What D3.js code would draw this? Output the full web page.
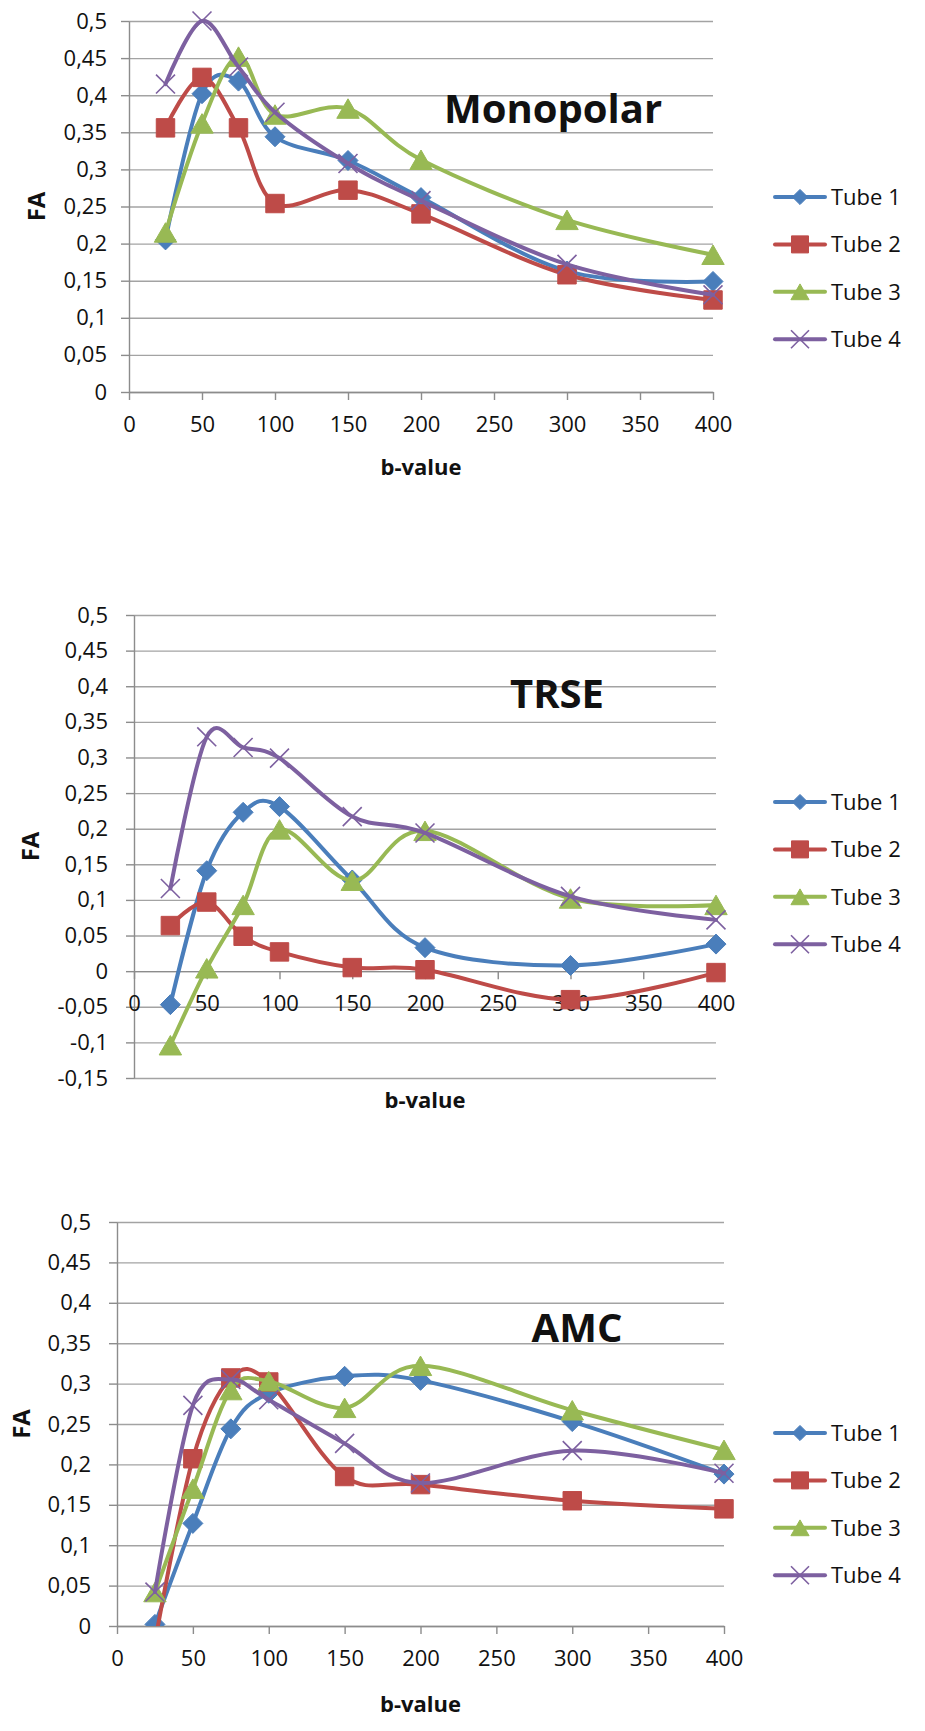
<!DOCTYPE html>
<html>
<head>
	<meta charset="UTF-8">
	<title>FA vs b-value</title>
	<script src="https://d3js.org/d3.v7.min.js"></script>
	<style>
		body { margin: 0; background: #ffffff; }
		text { font-family: "Open Sans", "Liberation Sans", sans-serif; fill: #111; }
	</style>
</head>
<body>
	<script>

		// b-values on the x axis and the series names
		var bValues = [25, 50, 75, 100, 150, 200, 300, 400];
		var tubeNames = ["Tube 1", "Tube 2", "Tube 3", "Tube 4"];

		// Monopolar FA
		var monopolarTube1 = [0.205, 0.402, 0.419, 0.344, 0.312, 0.262, 0.163, 0.149];
		var monopolarTube2 = [0.356, 0.424, 0.356, 0.254, 0.272, 0.240, 0.158, 0.124];
		var monopolarTube3 = [0.215, 0.362, 0.452, 0.374, 0.382, 0.313, 0.232, 0.185];
		var monopolarTube4 = [0.415, 0.500, 0.438, 0.377, 0.308, 0.258, 0.172, 0.131];

		// TRSE FA
		var trseTube1 = [-0.047, 0.141, 0.223, 0.231, 0.128, 0.033, 0.008, 0.038];
		var trseTube2 = [0.064, 0.097, 0.049, 0.027, 0.005, 0.002, -0.040, -0.002];
		var trseTube3 = [-0.104, 0.004, 0.093, 0.199, 0.127, 0.197, 0.102, 0.093];
		var trseTube4 = [0.116, 0.329, 0.314, 0.299, 0.217, 0.194, 0.105, 0.072];

		// AMC FA
		var amcTube1 = [0.002, 0.127, 0.244, 0.288, 0.309, 0.304, 0.253, 0.188];
		var amcTube2 = [-0.02, 0.207, 0.307, 0.302, 0.185, 0.175, 0.155, 0.145];
		var amcTube3 = [0.042, 0.170, 0.292, 0.303, 0.270, 0.322, 0.267, 0.218];
		var amcTube4 = [0.042, 0.273, 0.305, 0.280, 0.226, 0.177, 0.217, 0.189];

		// tick values
		var xTicks = [0, 50, 100, 150, 200, 250, 300, 350, 400];
		var yTicksPositive = [0, 0.05, 0.1, 0.15, 0.2, 0.25, 0.3, 0.35, 0.4, 0.45, 0.5];
		var yTicksTrse = [-0.15, -0.1, -0.05, 0, 0.05, 0.1, 0.15, 0.2, 0.25, 0.3, 0.35, 0.4, 0.45, 0.5];

		var colours = ["#4a7ebb", "#be4b48", "#98b954", "#7d60a0"];

		// comma decimals, plain hyphen for minus
		var locale = d3.formatLocale({decimal: ",", thousands: ".", grouping: [3], currency: ["", ""], minus: "-"});
		var formatFA = locale.format("~f");

		// Excel-like marker shapes
		var diamond = {draw: function(ctx, size) {
			var r = Math.sqrt(size / 2);
			ctx.moveTo(0, -r); ctx.lineTo(r, 0); ctx.lineTo(0, r); ctx.lineTo(-r, 0); ctx.closePath();
		}};
		var triangle = {draw: function(ctx, size) {
			var h = Math.sqrt(size), w = h * 1.15;
			ctx.moveTo(0, -h / 2); ctx.lineTo(w / 2, h / 2); ctx.lineTo(-w / 2, h / 2); ctx.closePath();
		}};
		var cross = {draw: function(ctx, size) {
			var r = Math.sqrt(size) / 2;
			ctx.moveTo(-r, -r); ctx.lineTo(r, r); ctx.moveTo(-r, r); ctx.lineTo(r, -r);
		}};
		var markerTypes = [diamond, d3.symbolSquare, triangle, cross];
		var chartMarkerSize = [200, 340, 380, 360];
		var legendMarkerSize = [115, 290, 250, 324];

		// layout of the three stacked charts
		var charts = [
			{title: "Monopolar", series: [monopolarTube1, monopolarTube2, monopolarTube3, monopolarTube4],
			 yTicks: yTicksPositive, left: 129, right: 713, top: 21, bottom: 392, labelPad: 14,
			 titleX: 553, titleY: 123, faX: 37, bLabelY: 467, legendY: 197},
			{title: "TRSE", series: [trseTube1, trseTube2, trseTube3, trseTube4],
			 yTicks: yTicksTrse, left: 134, right: 716, top: 615, bottom: 1078, labelPad: 18,
			 titleX: 557, titleY: 708, faX: 31, bLabelY: 1100, legendY: 802},
			{title: "AMC", series: [amcTube1, amcTube2, amcTube3, amcTube4],
			 yTicks: yTicksPositive, left: 117, right: 724, top: 1222, bottom: 1626, labelPad: 18,
			 titleX: 577, titleY: 1342, faX: 22, bLabelY: 1704, legendY: 1433}
		];

		var svg = d3.select("body")
					.append("svg")
						.attr("width", 925)
						.attr("height", 1731);

		charts.forEach(function(c, ci) {

			var x = d3.scaleLinear().domain([0, 400]).range([c.left, c.right]);
			var y = d3.scaleLinear().domain([c.yTicks[0], 0.5]).range([c.bottom, c.top]);

			var g = svg.append("g");

			// horizontal gridlines
			g.append("g")
				.attr("transform", "translate(" + c.left + ",0)")
				.call(d3.axisLeft(y).tickValues(c.yTicks).tickSize(-(c.right - c.left)).tickSizeOuter(0).tickFormat(""))
				.call(function(a) { a.select(".domain").remove(); })
				.selectAll("line")
					.attr("stroke", "#a3a3a3")
					.attr("stroke-width", 1.4);

			// y axis with labels
			var yAxis = g.append("g")
				.attr("transform", "translate(" + c.left + ",0)")
				.call(d3.axisLeft(y).tickValues(c.yTicks).tickSize(8).tickSizeOuter(0).tickPadding(c.labelPad).tickFormat(formatFA));
			yAxis.selectAll("line, path").attr("stroke", "#8c8c8c").attr("stroke-width", 1.4);
			yAxis.selectAll("text")
				.attr("font-size", 22)
				.style("font-family", "'Open Sans', sans-serif")
				.attr("fill", "#111");

			// x axis sits on FA = 0
			var xAxis = g.append("g")
				.attr("transform", "translate(0," + y(0) + ")")
				.call(d3.axisBottom(x).tickValues(xTicks).tickSize(8).tickSizeOuter(0).tickPadding(16));
			xAxis.selectAll("line, path").attr("stroke", "#8c8c8c").attr("stroke-width", 1.4);
			xAxis.selectAll("text")
				.attr("font-size", 22)
				.style("font-family", "'Open Sans', sans-serif")
				.attr("fill", "#111");

			// axis titles
			g.append("text")
				.attr("transform", "translate(" + c.faX + "," + ((c.top + c.bottom) / 2) + ") rotate(-90)")
				.attr("text-anchor", "middle")
				.attr("dy", "0.35em")
				.attr("font-size", 24)
				.attr("font-weight", "bold")
				.text("FA");

			g.append("text")
				.attr("x", (c.left + c.right) / 2)
				.attr("y", c.bLabelY)
				.attr("text-anchor", "middle")
				.attr("dy", "0.35em")
				.attr("font-size", 22)
				.attr("font-weight", "bold")
				.text("b-value");

			// chart title inside the plot
			g.append("text")
				.attr("x", c.titleX)
				.attr("y", c.titleY)
				.attr("text-anchor", "middle")
				.attr("font-size", 40)
				.attr("font-weight", "bold")
				.attr("fill", "#000")
				.text(c.title);

			// clip below the lowest gridline
			svg.append("defs").append("clipPath")
				.attr("id", "clip" + ci)
				.append("rect")
					.attr("x", c.left - 40)
					.attr("y", c.top - 40)
					.attr("width", c.right - c.left + 80)
					.attr("height", c.bottom - c.top + 40);

			var plot = g.append("g").attr("clip-path", "url(#clip" + ci + ")");

			var line = d3.line()
							.x(function(d, i) { return x(bValues[i]); })
							.y(function(d) { return y(d); })
							.curve(d3.curveCatmullRom.alpha(0));

			c.series.forEach(function(values, si) {
				var sg = plot.append("g");

				sg.append("path")
					.datum(values)
					.attr("d", line)
					.attr("fill", "none")
					.attr("stroke", colours[si])
					.attr("stroke-width", 4)
					.attr("stroke-linejoin", "round")
					.attr("stroke-linecap", "round");

				sg.selectAll(".marker")
					.data(values)
					.enter()
					.append("path")
						.attr("class", "marker")
						.attr("transform", function(d, i) { return "translate(" + x(bValues[i]) + "," + y(d) + ")"; })
						.attr("d", d3.symbol().type(markerTypes[si]).size(chartMarkerSize[si]))
						.attr("fill", si == 3 ? "none" : colours[si])
						.attr("stroke", colours[si])
						.attr("stroke-width", si == 3 ? 1.6 : 1);
			});

			// legend on the right
			var legend = g.append("g");
			tubeNames.forEach(function(name, si) {
				var ly = c.legendY + si * 47.4;
				legend.append("line")
					.attr("x1", 775)
					.attr("x2", 825)
					.attr("y1", ly)
					.attr("y2", ly)
					.attr("stroke", colours[si])
					.attr("stroke-width", 4)
					.attr("stroke-linecap", "round");
				legend.append("path")
					.attr("transform", "translate(800," + ly + ")")
					.attr("d", d3.symbol().type(markerTypes[si]).size(legendMarkerSize[si]))
					.attr("fill", si == 3 ? "none" : colours[si])
					.attr("stroke", colours[si])
					.attr("stroke-width", si == 3 ? 1.6 : 1);
				legend.append("text")
					.attr("x", 831)
					.attr("y", ly)
					.attr("dy", "0.35em")
					.attr("font-size", 22)
					.text(name);
			});
		});

	</script>
</body>
</html>
